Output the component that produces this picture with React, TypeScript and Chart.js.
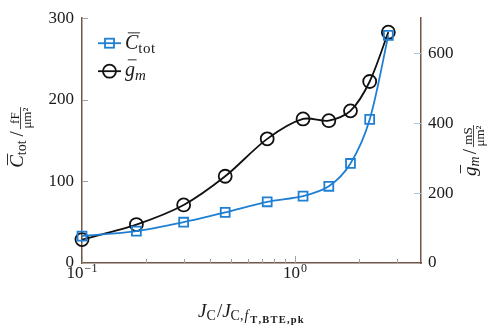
import { useEffect, useRef } from 'react';
import { Chart, registerables } from 'chart.js';

Chart.register(...registerables);

const xValues = [0.1, 0.18, 0.3, 0.47, 0.74, 1.09, 1.44, 1.82, 2.24, 2.74];
const cTot = [33, 39, 50, 62, 75, 82, 94, 122, 176, 279];
const gM = [67, 110, 166, 248, 355, 412, 407, 435, 519, 660];
const leftTicks = [0, 100, 200, 300];
const rightTicks = [0, 200, 400, 600];
const xMajorTicks = [0.1, 1];
const xMajorLabels = [['10', '−1'], ['10', '0']];
const xMinorTicks = [0.2, 0.3, 0.4, 0.5, 0.6, 0.7, 0.8, 0.9, 2, 3];

const FONT = '"Liberation Serif", "DejaVu Serif", serif';
const BLUE = '#1f7fd2';
const BLACK = '#111111';
const AXIS = '#6e5648';
const TEXT = '#1a1a1a';

type Seg = {
  t?: string;
  frac?: [string, string];
  size: number;
  italic?: boolean;
  bold?: boolean;
  dy?: number;
  over?: boolean;
  gap?: number;
  ls?: number;
};

function fontOf(s: Seg) {
  return `${s.italic ? 'italic ' : ''}${s.bold ? 'bold ' : ''}${s.size}px ${FONT}`;
}

function textW(ctx: CanvasRenderingContext2D, t: string, ls: number) {
  let w = 0;
  for (const ch of t) w += ctx.measureText(ch).width + ls;
  return w;
}

function segWidth(ctx: CanvasRenderingContext2D, s: Seg) {
  ctx.font = fontOf(s);
  if (s.frac) {
    return Math.max(ctx.measureText(s.frac[0]).width, ctx.measureText(s.frac[1]).width) + 3;
  }
  return textW(ctx, s.t || '', s.ls || 0) + (s.gap || 0);
}

function drawRich(
  ctx: CanvasRenderingContext2D,
  segs: Seg[],
  x: number,
  y: number,
  angle: number,
  align: 'center' | 'left'
) {
  ctx.save();
  ctx.translate(x, y);
  ctx.rotate(angle);
  ctx.textBaseline = 'alphabetic';
  ctx.textAlign = 'left';
  ctx.fillStyle = TEXT;
  const widths = segs.map((s) => segWidth(ctx, s));
  const total = widths.reduce((a, b) => a + b, 0);
  let cx = align === 'center' ? -total / 2 : 0;
  segs.forEach((s, i) => {
    const w = widths[i];
    ctx.font = fontOf(s);
    if (s.frac) {
      const barY = -2.5;
      ctx.fillRect(cx + 1, barY - 0.4, w - 2, 0.8);
      const wn = ctx.measureText(s.frac[0]).width;
      const wd = ctx.measureText(s.frac[1]).width;
      ctx.fillText(s.frac[0], cx + (w - wn) / 2, barY - 2);
      ctx.fillText(s.frac[1], cx + (w - wd) / 2, barY + 2 + s.size * 0.68);
    } else {
      const ls = s.ls || 0;
      let px = cx;
      for (const ch of s.t || '') {
        ctx.fillText(ch, px, s.dy || 0);
        px += ctx.measureText(ch).width + ls;
      }
      if (s.over) {
        const tw = ctx.measureText(s.t || '').width;
        ctx.fillRect(cx + s.size * 0.14, -s.size * 0.84, tw - s.size * 0.06, 0.9);
      }
    }
    cx += w;
  });
  ctx.restore();
}

const leftTitle: Seg[] = [
  { t: 'C', size: 19, italic: true, over: true },
  { t: 'tot', size: 14, dy: 3, gap: 4 },
  { t: '/', size: 19, gap: 1 },
  { frac: ['fF', 'μm²'], size: 13 },
];
const rightTitle: Seg[] = [
  { t: 'g', size: 19, italic: true, over: true },
  { t: 'm', size: 14, italic: true, dy: 3, gap: 2 },
  { t: '/', size: 19, gap: 1 },
  { frac: ['mS', 'μm²'], size: 13 },
];
const xTitle: Seg[] = [
  { t: 'J', size: 19, italic: true },
  { t: 'C', size: 14, dy: 3, gap: 1 },
  { t: '/', size: 19 },
  { t: 'J', size: 19, italic: true },
  { t: 'C,', size: 14, dy: 3, gap: 1 },
  { t: 'f', size: 14, italic: true, dy: 3, gap: 2 },
  { t: 'T,BTE,pk', size: 10.5, bold: true, dy: 6, ls: 1.2 },
];
const legendC: Seg[] = [
  { t: 'C', size: 20, italic: true, over: true },
  { t: 'tot', size: 15, dy: 4, ls: 0.5 },
];
const legendG: Seg[] = [
  { t: 'g', size: 20, italic: true, over: true },
  { t: 'm', size: 15, italic: true, dy: 4 },
];

const decorPlugin = {
  id: 'decor',
  beforeDatasetsDraw(chart: any) {
    const ctx: CanvasRenderingContext2D = chart.ctx;
    const { left, right, bottom } = chart.chartArea;
    const xs = chart.scales.x;
    const yl = chart.scales.y;
    const yr = chart.scales.y1;
    ctx.save();
    ctx.lineWidth = 1;
    ctx.strokeStyle = '#a0a0a0';
    leftTicks.forEach((v) => {
      if (v === 0) return;
      const py = Math.round(yl.getPixelForValue(v)) + 0.5;
      ctx.beginPath();
      ctx.moveTo(left, py);
      ctx.lineTo(left + 6, py);
      ctx.stroke();
    });
    ctx.strokeStyle = '#a9c7e2';
    rightTicks.forEach((v) => {
      if (v === 0) return;
      const py = Math.round(yr.getPixelForValue(v)) + 0.5;
      ctx.beginPath();
      ctx.moveTo(right, py);
      ctx.lineTo(right - 7, py);
      ctx.stroke();
    });
    ctx.strokeStyle = '#a0a0a0';
    xMajorTicks.forEach((v) => {
      const px = Math.round(xs.getPixelForValue(v)) + 0.5;
      ctx.beginPath();
      ctx.moveTo(px, bottom);
      ctx.lineTo(px, bottom - 7);
      ctx.stroke();
    });
    xMinorTicks.forEach((v) => {
      const px = Math.round(xs.getPixelForValue(v)) + 0.5;
      ctx.beginPath();
      ctx.moveTo(px, bottom);
      ctx.lineTo(px, bottom - 4);
      ctx.stroke();
    });
    ctx.restore();
  },
  afterDraw(chart: any) {
    const ctx: CanvasRenderingContext2D = chart.ctx;
    const { left, right, top, bottom } = chart.chartArea;
    const xs = chart.scales.x;
    xMajorTicks.forEach((v, i) => {
      const px = xs.getPixelForValue(v);
      const [base, sup] = xMajorLabels[i];
      ctx.save();
      ctx.fillStyle = TEXT;
      ctx.textBaseline = 'alphabetic';
      ctx.textAlign = 'left';
      ctx.font = `17px ${FONT}`;
      const wb = ctx.measureText(base).width;
      ctx.font = `12px ${FONT}`;
      const ws = ctx.measureText(sup).width;
      const start = px - (wb + ws + 1) / 2;
      ctx.font = `17px ${FONT}`;
      ctx.fillText(base, start, bottom + 15);
      ctx.font = `12px ${FONT}`;
      ctx.fillText(sup, start + wb + 1, bottom + 9);
      ctx.restore();
    });
    drawRich(ctx, leftTitle, 23, 137, -Math.PI / 2, 'center');
    drawRich(ctx, rightTitle, 476, 150, -Math.PI / 2, 'center');
    drawRich(ctx, xTitle, (left + right) / 2, bottom + 54, 0, 'center');
    const lx0 = left + 16;
    const lx1 = left + 39;
    const mx = (lx0 + lx1) / 2;
    const y1 = top + 25;
    const y2 = top + 53;
    ctx.save();
    ctx.lineWidth = 1.8;
    ctx.strokeStyle = BLUE;
    ctx.beginPath();
    ctx.moveTo(lx0, y1);
    ctx.lineTo(lx1, y1);
    ctx.stroke();
    ctx.strokeRect(mx - 4.5, y1 - 4.5, 9, 9);
    ctx.strokeStyle = BLACK;
    ctx.beginPath();
    ctx.moveTo(lx0, y2);
    ctx.lineTo(lx1, y2);
    ctx.stroke();
    ctx.beginPath();
    ctx.arc(mx, y2, 6.5, 0, Math.PI * 2);
    ctx.stroke();
    ctx.restore();
    drawRich(ctx, legendC, lx1 + 4, y1 + 6, 0, 'left');
    drawRich(ctx, legendG, lx1 + 4, y2 + 5, 0, 'left');
  },
};

export default function App() {
  const ref = useRef<HTMLCanvasElement | null>(null);
  useEffect(() => {
    if (!ref.current) return;
    const chart = new Chart(ref.current, {
      type: 'line',
      data: {
        datasets: [
          {
            label: 'C_tot',
            data: xValues.map((x, i) => ({ x, y: cTot[i] })),
            yAxisID: 'y',
            borderColor: BLUE,
            borderWidth: 1.8,
            pointStyle: 'rect',
            pointRadius: 6.3,
            pointBorderWidth: 1.8,
            pointBorderColor: BLUE,
            pointBackgroundColor: 'rgba(0,0,0,0)',
            tension: 0.3,
            clip: false as any,
          },
          {
            label: 'g_m',
            data: xValues.map((x, i) => ({ x, y: gM[i] })),
            yAxisID: 'y1',
            borderColor: BLACK,
            borderWidth: 1.8,
            pointStyle: 'circle',
            pointRadius: 6.5,
            pointBorderWidth: 1.8,
            pointBorderColor: BLACK,
            pointBackgroundColor: 'rgba(0,0,0,0)',
            tension: 0.3,
            clip: false as any,
          },
        ],
      },
      options: {
        animation: false,
        responsive: false,
        maintainAspectRatio: false,
        layout: { padding: { top: 7, left: 0, right: 0, bottom: 0 } },
        plugins: { legend: { display: false }, tooltip: { enabled: false } },
        scales: {
          x: {
            type: 'logarithmic',
            position: 'bottom',
            min: 0.1,
            max: 3.9,
            grid: { display: false, drawTicks: false },
            border: { display: true, color: AXIS, width: 1.5 },
            ticks: { display: false },
            afterFit: (s: any) => {
              s.height = 62;
            },
          },
          y: {
            type: 'linear',
            position: 'left',
            min: 0,
            max: 300,
            afterBuildTicks: (s: any) => {
              s.ticks = leftTicks.map((v) => ({ value: v }));
            },
            grid: { display: false, drawTicks: false },
            border: { display: true, color: AXIS, width: 1.5 },
            ticks: { font: { family: FONT, size: 17 }, color: TEXT, padding: 8 },
            afterFit: (s: any) => {
              s.width = 82;
            },
          },
          y1: {
            type: 'linear',
            position: 'right',
            min: 0,
            max: 700,
            afterBuildTicks: (s: any) => {
              s.ticks = rightTicks.map((v) => ({ value: v }));
            },
            grid: { display: false, drawTicks: false },
            border: { display: true, color: AXIS, width: 1.5 },
            ticks: { font: { family: FONT, size: 17 }, color: TEXT, padding: 7 },
            afterFit: (s: any) => {
              s.width = 70;
            },
          },
        },
      } as any,
      plugins: [decorPlugin],
    });
    return () => chart.destroy();
  }, []);
  return (
    <div style={{ position: 'fixed', left: 0, top: 0, width: 491, height: 325, background: '#fff' }}>
      <canvas ref={ref} width={491} height={325} style={{ width: 491, height: 325, display: 'block' }} />
    </div>
  );
}
